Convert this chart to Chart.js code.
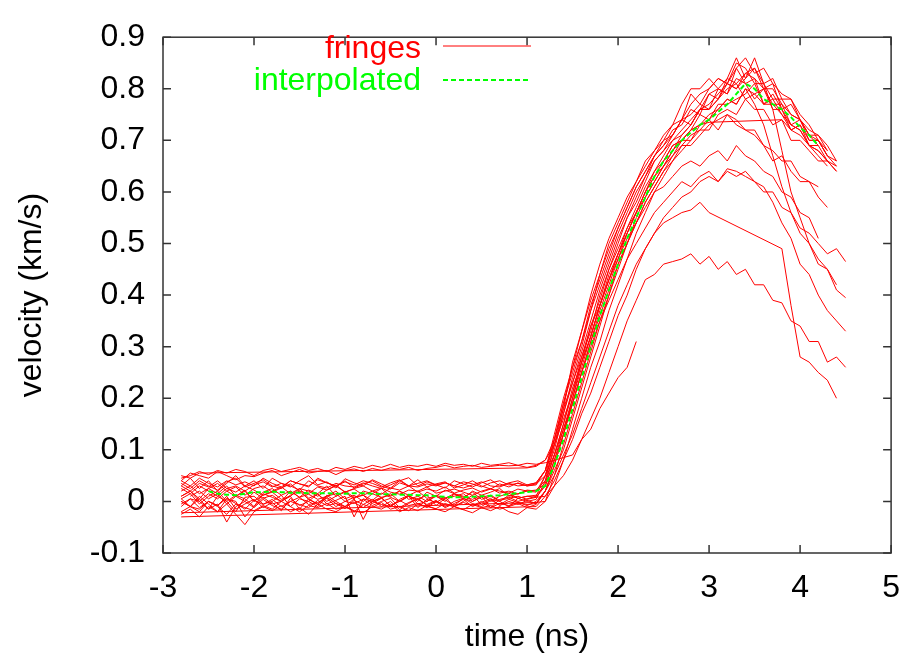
<!DOCTYPE html>
<html>
<head>
<meta charset="utf-8">
<script src="https://cdn.jsdelivr.net/npm/chart.js@4.4.0/dist/chart.umd.min.js"></script>
<style>
  html, body { margin: 0; padding: 0; background: #fff; }
  #wrap { width: 916px; height: 660px; }
</style>
</head>
<body>
<div id="wrap"><canvas id="chart" width="916" height="660"></canvas></div>
<script>
// time axis shared by every trace (ns)
const timeNs = [
  -2.8, -2.7, -2.6, -2.5, -2.4, -2.3, -2.2, -2.1, -2.0, -1.9,
  -1.8, -1.7, -1.6, -1.5, -1.4, -1.3, -1.2, -1.1, -1.0, -0.9,
  -0.8, -0.7, -0.6, -0.5, -0.4, -0.3, -0.2, -0.1, 0.0, 0.1,
  0.2, 0.3, 0.4, 0.5, 0.6, 0.7, 0.8, 0.9, 1.0, 1.1,
  1.2, 1.3, 1.4, 1.5, 1.6, 1.7, 1.8, 1.9, 2.0, 2.1,
  2.2, 2.3, 2.4, 2.5, 2.6, 2.7, 2.8, 2.9, 3.0, 3.1,
  3.2, 3.3, 3.4, 3.5, 3.6, 3.7, 3.8, 3.9, 4.0, 4.1,
  4.2, 4.3, 4.4, 4.5
];

// velocity (km/s)
const interpolated = [
  null, null, null, 0.020, 0.015, 0.013, 0.012, 0.015, 0.018, 0.018,
  0.019, 0.018, 0.017, 0.017, 0.016, 0.016, 0.016, 0.015, 0.015, 0.016,
  0.016, 0.015, 0.014, 0.014, 0.013, 0.013, 0.012, 0.012, 0.010, 0.009,
  0.008, 0.008, 0.009, 0.010, 0.011, 0.012, 0.014, 0.016, 0.018, 0.020,
  0.03, 0.07, 0.12, 0.18, 0.24, 0.30, 0.36, 0.41, 0.46, 0.51,
  0.55, 0.59, 0.63, 0.66, 0.68, 0.70, 0.715, 0.73, 0.74, 0.755,
  0.77, 0.79, 0.81, 0.80, 0.78, 0.77, 0.76, 0.745, 0.725, 0.71,
  0.69, null, null, null
];

const fringe01 = [
  0.040, 0.055, 0.050, 0.045, 0.058, 0.050, 0.042, 0.050, 0.048, 0.055,
  0.060, 0.050, 0.056, 0.062, 0.055, 0.058, 0.060, 0.052, 0.060, 0.063,
  0.058, 0.064, 0.060, 0.065, 0.062, 0.066, 0.060, 0.064, 0.066, 0.070,
  0.065, 0.068, 0.070, 0.066, 0.068, 0.070, 0.069, 0.070, 0.066, 0.070,
  0.08, 0.11, 0.16, 0.21, 0.28, 0.33, 0.40, 0.45, 0.50, 0.55,
  0.58, 0.62, 0.66, 0.68, 0.71, 0.74, 0.73, 0.76, 0.79, 0.78,
  0.82, 0.86, 0.82, 0.86, 0.81, 0.82, 0.78, 0.78, 0.74, 0.72,
  0.71, 0.69, 0.66, null
];

const fringe02 = [
  0.030, 0.020, 0.035, 0.028, 0.040, 0.025, 0.030, 0.020, 0.032, 0.038,
  0.028, 0.035, 0.030, 0.022, 0.040, 0.030, 0.026, 0.035, 0.030, 0.028,
  0.036, 0.030, 0.025, 0.032, 0.040, 0.030, 0.028, 0.034, 0.030, 0.036,
  0.030, 0.026, 0.032, 0.038, 0.030, 0.028, 0.035, 0.030, 0.032, 0.036,
  0.06, 0.12, 0.19, 0.26, 0.31, 0.37, 0.42, 0.47, 0.52, 0.56,
  0.60, 0.63, 0.67, 0.69, 0.71, 0.74, 0.75, 0.77, 0.76, 0.80,
  0.79, 0.82, 0.81, 0.78, 0.80, 0.77, 0.77, 0.73, 0.74, 0.70,
  0.70, 0.67, 0.65, null
];

const fringe03 = [
  0.010, 0.020, 0.005, 0.025, 0.015, 0.030, 0.010, 0.020, 0.000, 0.018,
  0.025, 0.012, 0.020, 0.008, 0.022, 0.015, 0.030, 0.010, 0.018, 0.005,
  0.020, 0.015, 0.025, 0.010, 0.020, 0.012, 0.000, 0.018, 0.010, 0.022,
  0.015, 0.005, 0.020, 0.012, 0.018, 0.025, 0.010, 0.015, 0.020, 0.018,
  0.05, 0.10, 0.17, 0.24, 0.30, 0.37, 0.44, 0.50, 0.54, 0.58,
  0.62, 0.65, 0.68, 0.70, 0.73, 0.74, 0.77, 0.79, 0.80, 0.82,
  0.81, 0.85, 0.84, 0.81, 0.81, 0.78, 0.78, 0.75, 0.74, 0.71,
  0.71, 0.68, null, null
];

const fringe04 = [
  -0.010, 0.005, 0.000, -0.015, 0.010, 0.000, -0.020, 0.008, 0.010, -0.005,
  0.000, 0.012, -0.010, 0.005, 0.000, 0.015, -0.005, 0.002, 0.010, -0.030,
  0.005, 0.000, 0.008, -0.010, 0.004, 0.012, -0.005, 0.000, 0.010, 0.003,
  -0.008, 0.006, 0.000, 0.010, -0.012, 0.004, 0.008, 0.000, 0.005, 0.010,
  0.05, 0.12, 0.19, 0.25, 0.31, 0.38, 0.43, 0.48, 0.53, 0.57,
  0.61, 0.64, 0.67, 0.69, 0.72, 0.73, 0.76, 0.75, 0.79, 0.80,
  0.79, 0.84, 0.81, 0.82, 0.77, 0.79, 0.76, 0.73, 0.72, 0.69,
  0.69, 0.66, null, null
];

const fringe05 = [
  -0.020, -0.010, -0.015, 0.000, -0.010, -0.025, -0.005, -0.012, -0.018, -0.008,
  -0.015, 0.000, -0.010, -0.020, -0.008, -0.012, -0.004, -0.015, -0.010, -0.020,
  -0.006, -0.012, -0.002, -0.015, -0.010, -0.018, -0.005, -0.010, -0.014, -0.004,
  -0.010, -0.016, -0.006, -0.012, -0.008, -0.015, -0.010, -0.004, -0.012, -0.006,
  0.02, 0.07, 0.13, 0.19, 0.25, 0.31, 0.37, 0.42, 0.47, 0.52,
  0.56, 0.60, 0.63, 0.66, 0.69, 0.70, 0.72, 0.75, 0.74, 0.77,
  0.77, 0.78, 0.79, 0.81, 0.77, 0.77, 0.75, 0.72, 0.73, 0.69,
  0.68, 0.66, 0.64, null
];

const fringe06 = [
  0.025, 0.015, 0.030, 0.020, 0.010, 0.025, 0.018, 0.030, 0.022, 0.012,
  0.020, 0.028, 0.015, 0.025, 0.020, 0.010, 0.022, 0.030, 0.018, 0.024,
  0.012, 0.020, 0.026, 0.018, 0.014, 0.022, 0.020, 0.028, 0.016, 0.020,
  0.024, 0.018, 0.012, 0.020, 0.025, 0.016, 0.020, 0.014, 0.022, 0.020,
  0.035, 0.09, 0.15, 0.22, 0.27, 0.34, 0.39, 0.45, 0.49, 0.53,
  0.57, 0.61, 0.64, 0.67, 0.70, 0.71, 0.73, 0.76, 0.76, 0.78,
  0.81, 0.80, 0.82, 0.84, 0.80, 0.81, 0.76, 0.77, 0.74, 0.71,
  0.70, 0.67, null, null
];

const fringe07 = [
  0.000, -0.010, 0.010, -0.005, -0.020, 0.005, 0.000, -0.030, -0.010, 0.008,
  -0.005, 0.000, 0.010, -0.015, 0.005, -0.005, 0.012, 0.000, -0.010, 0.005,
  -0.035, 0.000, 0.006, -0.008, 0.000, 0.010, -0.012, 0.004, -0.002, 0.008,
  -0.010, 0.000, 0.012, -0.006, 0.004, 0.000, -0.010, 0.006, 0.000, 0.004,
  0.04, 0.11, 0.18, 0.27, 0.33, 0.40, 0.46, 0.51, 0.55, 0.59,
  0.62, 0.66, 0.68, 0.71, 0.73, 0.77, 0.80, 0.80, 0.82, 0.80,
  0.82, 0.81, 0.78, 0.79, 0.80, 0.76, 0.76, 0.72, 0.71, 0.69,
  0.67, 0.65, null, null
];

const fringe08 = [
  0.010, 0.020, 0.000, 0.015, 0.005, 0.020, 0.010, 0.000, 0.018, 0.006,
  0.012, 0.000, 0.020, 0.008, 0.014, 0.004, 0.010, 0.020, 0.005, 0.012,
  0.000, 0.015, 0.008, 0.012, 0.020, 0.004, 0.010, 0.000, 0.012, 0.006,
  0.015, 0.010, 0.004, 0.012, 0.000, 0.010, 0.016, 0.006, 0.010, 0.012,
  0.03, 0.08, 0.14, 0.20, 0.27, 0.32, 0.38, 0.44, 0.48, 0.53,
  0.56, 0.60, 0.64, 0.66, 0.69, 0.70, 0.72, 0.73, 0.735, null,
  null, null, null, null, null, null, 0.74, 0.72, 0.73, 0.70,
  0.70, 0.67, 0.66, null
];

const fringe09 = [
  -0.022, null, null, null, null, null, null, null, null, null,
  null, null, null, null, null, null, null, null, null, null,
  null, null, null, null, null, null, null, null, null, null,
  null, null, null, null, null, null, null, null, null, -0.002,
  0.00, 0.03, 0.08, 0.14, 0.20, 0.26, 0.31, 0.37, 0.42, 0.47,
  0.52, 0.56, 0.60, 0.63, 0.66, 0.68, 0.70, 0.72, 0.72, 0.75,
  0.76, 0.75, 0.78, 0.76, 0.76, 0.73, 0.74, 0.70, 0.70, 0.68,
  0.66, 0.66, 0.64, null
];

const fringe10 = [
  -0.025, -0.015, -0.030, -0.010, -0.020, -0.005, -0.025, -0.045, -0.020, -0.010,
  -0.018, -0.008, -0.020, -0.012, -0.025, -0.005, -0.015, -0.020, -0.010, -0.018,
  -0.022, -0.010, -0.015, -0.005, -0.020, -0.012, -0.018, -0.008, -0.015, -0.020,
  -0.010, -0.016, -0.022, -0.012, -0.018, -0.010, -0.020, -0.025, -0.012, -0.015,
  0.00, 0.05, 0.11, 0.17, 0.23, 0.29, 0.35, 0.40, 0.46, 0.50,
  0.55, 0.59, 0.62, 0.65, 0.68, 0.71, 0.73, 0.76, 0.76, 0.78,
  0.80, 0.81, 0.83, 0.82, 0.80, 0.80, 0.77, 0.75, 0.74, 0.71,
  0.69, null, null, null
];

const fringe11 = [
  0.040, 0.030, 0.045, 0.035, 0.028, 0.040, 0.032, 0.038, 0.030, 0.045,
  0.035, 0.028, 0.040, 0.034, 0.030, 0.042, 0.036, 0.030, 0.038, 0.032,
  0.040, 0.035, 0.028, 0.036, 0.042, 0.030, 0.035, 0.040, 0.032, 0.036,
  0.030, 0.038, 0.034, 0.028, 0.036, 0.040, 0.032, 0.035, 0.030, 0.034,
  0.05, 0.09, 0.15, 0.21, 0.27, 0.32, 0.38, 0.43, 0.48, 0.52,
  0.56, 0.59, 0.62, 0.65, 0.67, 0.70, 0.70, 0.73, 0.74, 0.72,
  0.75, 0.74, 0.72, 0.72, 0.69, 0.68, 0.66, 0.66, 0.63, 0.62,
  0.61, null, null, null
];

const fringe12 = [
  0.005, 0.015, -0.005, 0.010, 0.020, 0.000, 0.012, 0.005, -0.010, 0.015,
  0.008, 0.000, 0.012, 0.020, 0.004, -0.006, 0.010, 0.015, 0.000, 0.008,
  0.012, -0.004, 0.006, 0.015, 0.000, 0.010, 0.004, 0.012, -0.008, 0.006,
  0.010, 0.015, 0.000, 0.008, 0.012, 0.002, 0.006, 0.010, 0.004, 0.008,
  0.03, 0.08, 0.13, 0.19, 0.25, 0.31, 0.36, 0.41, 0.46, 0.50,
  0.54, 0.58, 0.61, 0.64, 0.66, 0.69, 0.69, 0.71, 0.73, 0.74,
  0.75, 0.73, 0.72, 0.71, 0.69, 0.66, 0.67, 0.64, 0.62, 0.62,
  0.59, 0.57, null, null
];

const fringe13 = [
  0.050, 0.045, 0.055, null, null, null, null, null, null, null,
  null, null, null, null, null, null, null, null, null, null,
  0.060, null, null, null, null, null, null, null, null, null,
  null, null, null, null, null, null, null, null, 0.065, 0.068,
  0.08, 0.12, 0.18, 0.23, 0.28, 0.34, 0.38, 0.43, 0.47, 0.51,
  0.54, 0.57, 0.60, 0.61, 0.63, 0.65, 0.66, 0.65, 0.67, 0.68,
  0.66, 0.69, 0.67, 0.66, 0.64, 0.63, 0.60, 0.59, 0.56, 0.55,
  0.51, null, null, null
];

const fringe14 = [
  0.020, 0.030, 0.015, 0.025, 0.035, 0.020, 0.028, 0.012, 0.025, 0.030,
  0.018, 0.026, 0.034, 0.020, 0.015, 0.028, 0.022, 0.032, 0.018, 0.025,
  0.030, 0.020, 0.014, 0.026, 0.022, 0.030, 0.018, 0.024, 0.020, 0.028,
  0.016, 0.022, 0.026, 0.018, 0.024, 0.020, 0.016, 0.024, 0.020, 0.022,
  0.04, 0.09, 0.14, 0.19, 0.25, 0.30, 0.35, 0.39, 0.43, 0.47,
  0.50, 0.53, 0.56, 0.58, 0.60, 0.62, 0.61, 0.63, 0.64, 0.62,
  0.645, 0.64, 0.63, 0.62, 0.60, 0.60, 0.57, 0.56, 0.53, 0.52,
  0.50, 0.48, 0.49, 0.465
];

const fringe15 = [
  0.005, -0.010, -0.020, 0.000, -0.008, 0.010, -0.015, -0.005, 0.004, -0.012,
  -0.002, -0.018, 0.006, -0.008, 0.000, -0.010, 0.008, -0.004, -0.014, 0.002,
  -0.006, 0.004, -0.010, 0.000, -0.016, -0.004, 0.006, -0.008, 0.000, -0.012,
  -0.004, 0.004, -0.010, -0.002, 0.006, -0.008, 0.000, -0.006, 0.002, -0.004,
  0.02, 0.07, 0.13, 0.20, 0.26, 0.32, 0.38, 0.43, 0.48, 0.52,
  0.56, 0.60, 0.63, 0.65, 0.68, 0.70, 0.72, 0.73, 0.75, 0.76,
  0.78, 0.77, 0.80, 0.77, 0.73, 0.67, 0.61, 0.56, 0.52, 0.50,
  0.46, 0.45, 0.41, 0.395
];

const fringe16 = [
  -0.030, null, null, null, null, null, null, null, null, null,
  null, null, null, null, null, null, null, null, null, null,
  null, null, null, null, null, null, null, null, null, null,
  null, null, null, null, null, null, null, null, null, -0.010,
  0.01, 0.04, 0.08, 0.12, 0.17, 0.21, 0.26, 0.31, 0.36, 0.40,
  0.45, 0.49, 0.52, 0.55, 0.57, 0.59, 0.60, 0.62, 0.63, 0.62,
  0.64, 0.63, 0.64, 0.62, 0.61, 0.58, 0.54, 0.51, 0.46, 0.44,
  0.40, 0.37, 0.35, 0.33
];

const fringe17 = [
  null, 0.010, 0.020, 0.005, 0.015, -0.005, 0.010, 0.022, 0.000, 0.012,
  0.018, 0.004, 0.010, 0.025, 0.006, 0.014, 0.000, 0.010, 0.020, 0.008,
  0.012, 0.002, 0.016, 0.008, 0.000, 0.012, 0.020, 0.006, 0.010, 0.000,
  0.014, 0.008, 0.018, 0.004, 0.010, 0.000, 0.012, 0.006, 0.010, 0.008,
  0.01, 0.03, 0.05, 0.08, 0.12, 0.16, 0.20, 0.25, 0.30, 0.35,
  0.39, 0.43, 0.44, 0.46, 0.465, 0.47, 0.48, 0.46, 0.475, 0.45,
  0.465, 0.44, 0.45, 0.42, 0.42, 0.39, 0.385, 0.35, 0.34, 0.31,
  0.31, 0.27, 0.28, 0.26
];

const fringe18 = [
  0.000, -0.010, 0.005, -0.015, -0.005, -0.040, -0.010, 0.000, -0.012, 0.004,
  -0.008, -0.015, 0.000, -0.006, -0.012, 0.002, -0.008, -0.004, -0.010, -0.002,
  -0.012, 0.000, -0.006, -0.010, 0.002, -0.008, -0.004, -0.012, 0.000, -0.006,
  -0.010, -0.002, -0.008, 0.000, -0.012, -0.004, -0.008, -0.002, -0.006, -0.004,
  0.02, 0.05, 0.09, 0.13, 0.18, 0.23, 0.28, 0.33, 0.38, 0.42,
  0.46, 0.49, 0.52, 0.54, 0.55, 0.56, 0.565, 0.58, 0.56, null,
  null, null, null, null, null, null, 0.49, 0.38, 0.28, 0.27,
  0.25, 0.235, 0.20, null
];

const fringe19 = [
  0.045, 0.050, 0.058, 0.052, 0.060, 0.055, 0.062, 0.058, 0.050, 0.060,
  0.064, 0.058, 0.062, 0.066, 0.060, 0.064, 0.058, 0.066, 0.062, 0.068,
  0.064, 0.070, 0.066, 0.072, 0.066, 0.070, 0.068, 0.072, 0.068, 0.074,
  0.070, 0.072, 0.068, 0.074, 0.070, 0.072, 0.075, 0.070, 0.074, 0.072,
  0.075, 0.08, 0.085, 0.09, 0.12, 0.14, 0.18, 0.21, 0.24, 0.26,
  0.31, null, null, null, null, null, null, null, null, null,
  null, null, null, null, null, null, null, null, null, null,
  null, null, null, null
];

const fringe20 = [
  0.030, 0.045, 0.025, 0.040, 0.020, 0.035, 0.050, 0.030, 0.040, 0.025,
  0.045, 0.035, 0.028, 0.040, 0.050, 0.032, 0.038, 0.026, 0.044, 0.036,
  0.030, 0.042, 0.034, 0.026, 0.040, 0.046, 0.030, 0.038, 0.032, 0.026,
  0.040, 0.034, 0.028, 0.036, 0.042, 0.030, 0.036, 0.040, 0.032, 0.036,
  0.06, 0.13, 0.20, 0.26, 0.33, 0.39, 0.44, 0.49, 0.53, 0.57,
  0.61, 0.64, 0.67, 0.70, 0.71, 0.74, 0.79, 0.77, 0.80, 0.82,
  0.81, 0.84, 0.86, 0.83, 0.84, 0.81, 0.79, 0.78, 0.75, 0.73,
  0.70, 0.68, null, null
];

const fringe21 = [
  -0.005, 0.005, -0.012, 0.000, -0.008, 0.006, -0.004, -0.015, 0.002, -0.006,
  0.004, -0.010, 0.000, 0.008, -0.006, -0.002, 0.006, -0.010, 0.000, -0.004,
  0.004, -0.008, 0.000, 0.006, -0.012, -0.002, 0.004, -0.006, 0.002, -0.010,
  0.000, 0.006, -0.004, -0.010, 0.002, -0.006, 0.004, -0.002, -0.008, 0.000,
  0.02, 0.06, 0.10, 0.16, 0.22, 0.28, 0.34, 0.40, 0.45, 0.50,
  0.54, 0.58, 0.61, 0.64, 0.67, 0.69, 0.71, 0.72, 0.74, 0.76,
  0.78, 0.77, 0.80, 0.79, 0.77, 0.78, 0.75, 0.73, 0.72, 0.69,
  0.68, 0.66, 0.65, null
];

const fringe22 = [
  0.035, 0.025, 0.040, 0.030, 0.022, 0.038, 0.045, 0.028, 0.035, 0.042,
  0.030, 0.025, 0.040, 0.034, 0.028, 0.045, 0.036, 0.030, 0.040, 0.026,
  0.034, 0.040, 0.030, 0.024, 0.036, 0.030, 0.042, 0.028, 0.034, 0.038,
  0.026, 0.032, 0.040, 0.030, 0.024, 0.034, 0.028, 0.036, 0.030, 0.032,
  0.06, 0.11, 0.17, 0.23, 0.29, 0.35, 0.41, 0.46, 0.51, 0.55,
  0.59, 0.63, 0.66, 0.68, 0.70, 0.72, 0.74, 0.76, 0.77, 0.79,
  0.81, 0.80, 0.83, 0.84, 0.81, 0.76, 0.68, 0.60, 0.55, 0.50,
  0.47, 0.45, 0.42, null
];

const fringeSets = [
  fringe01, fringe02, fringe03, fringe04, fringe05, fringe06, fringe07, fringe08,
  fringe09, fringe10, fringe11, fringe12, fringe13, fringe14, fringe15, fringe16,
  fringe17, fringe18, fringe19, fringe20, fringe21, fringe22
];

const fontFamily = '"Liberation Sans", Arial, Helvetica, sans-serif';
const bigFont = { family: fontFamily, size: 32 };

const toPoints = (values) => timeNs.map((t, i) => ({ x: t, y: values[i] }));

const datasets = fringeSets.map((values) => ({
  label: 'fringes',
  data: toPoints(values),
  borderColor: '#ff0000',
  borderWidth: 1,
  pointRadius: 0,
  tension: 0,
  spanGaps: true,
  order: 1
}));

datasets.push({
  label: 'interpolated',
  data: toPoints(interpolated),
  borderColor: '#00ff00',
  borderWidth: 2,
  borderDash: [5, 3],
  pointRadius: 0,
  tension: 0,
  spanGaps: true,
  order: 0
});

// gnuplot style box with inward ticks on all four sides
const framePlugin = {
  id: 'frame',
  afterDraw(chart) {
    const { ctx, chartArea: a, scales } = chart;
    ctx.save();
    ctx.strokeStyle = '#333';
    ctx.lineWidth = 1.5;
    ctx.strokeRect(a.left, a.top, a.right - a.left, a.bottom - a.top);
    ctx.beginPath();
    scales.x.ticks.forEach((t) => {
      const px = scales.x.getPixelForValue(t.value);
      ctx.moveTo(px, a.bottom);
      ctx.lineTo(px, a.bottom - 8);
      ctx.moveTo(px, a.top);
      ctx.lineTo(px, a.top + 8);
    });
    scales.y.ticks.forEach((t) => {
      const py = scales.y.getPixelForValue(t.value);
      ctx.moveTo(a.left, py);
      ctx.lineTo(a.left + 8, py);
      ctx.moveTo(a.right, py);
      ctx.lineTo(a.right - 8, py);
    });
    ctx.stroke();
    ctx.restore();
  }
};

// key: text right aligned, line sample to its right
const keyPlugin = {
  id: 'key',
  afterDraw(chart) {
    const ctx = chart.ctx;
    const all = chart.data.datasets;
    const entries = [
      { ds: all[0], textY: 58, lineY: 46 },
      { ds: all[all.length - 1], textY: 90, lineY: 80 }
    ];
    ctx.save();
    ctx.font = '32px ' + fontFamily;
    ctx.textAlign = 'right';
    ctx.textBaseline = 'alphabetic';
    entries.forEach((e) => {
      ctx.fillStyle = e.ds.borderColor;
      ctx.fillText(e.ds.label, 421, e.textY);
      ctx.beginPath();
      ctx.strokeStyle = e.ds.borderColor;
      ctx.lineWidth = e.ds.borderWidth;
      ctx.setLineDash(e.ds.borderDash || []);
      ctx.moveTo(443, e.lineY);
      ctx.lineTo(531, e.lineY);
      ctx.stroke();
    });
    ctx.restore();
  }
};

new Chart(document.getElementById('chart'), {
  type: 'line',
  data: { datasets: datasets },
  options: {
    responsive: false,
    animation: false,
    events: [],
    layout: { padding: { left: 0, right: 20, top: 22, bottom: 0 } },
    plugins: {
      legend: { display: false },
      tooltip: { enabled: false }
    },
    scales: {
      x: {
        type: 'linear',
        min: -3,
        max: 5,
        ticks: { stepSize: 1, color: '#000', font: bigFont, padding: 16, maxRotation: 0, autoSkip: false },
        grid: { display: false, drawTicks: false },
        border: { display: false },
        title: { display: true, text: 'time (ns)', color: '#000', font: bigFont, padding: { top: 0, bottom: 4 } },
        afterFit(scale) { scale.height = 107; }
      },
      y: {
        type: 'linear',
        min: -0.1,
        max: 0.9,
        ticks: {
          stepSize: 0.1,
          color: '#000',
          font: bigFont,
          padding: 18,
          autoSkip: false,
          callback: (v) => String(+v.toFixed(1))
        },
        grid: { display: false, drawTicks: false },
        border: { display: false },
        title: { display: true, text: 'velocity (km/s)', color: '#000', font: bigFont, padding: { top: 13, bottom: 0 } },
        afterFit(scale) { scale.width = 163; }
      }
    }
  },
  plugins: [framePlugin, keyPlugin]
});
</script>
</body>
</html>
